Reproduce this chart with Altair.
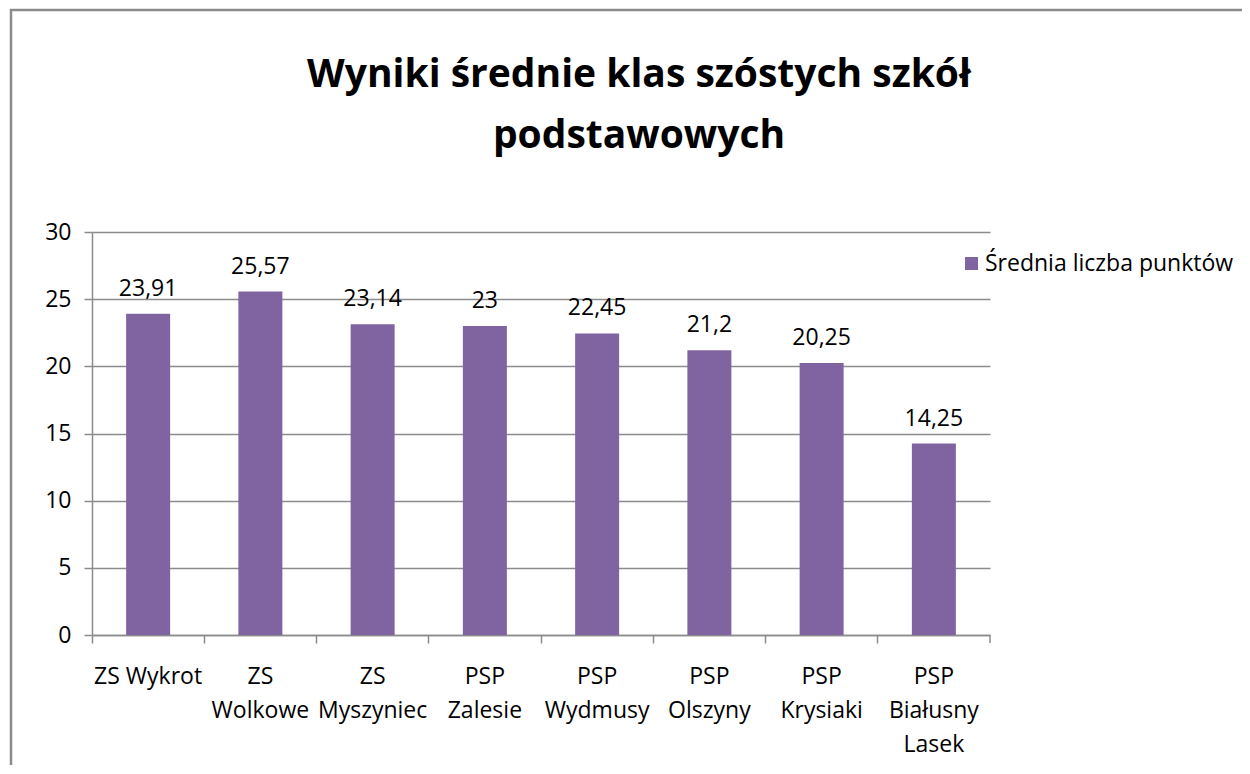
import json
import altair as alt
import pandas as pd

categories = ["ZS Wykrot", "ZS Wolkowe", "ZS Myszyniec", "PSP Zalesie",
              "PSP Wydmusy", "PSP Olszyny", "PSP Krysiaki", "PSP Białusny Lasek"]
label_lines = [["ZS Wykrot"], ["ZS", "Wolkowe"], ["ZS", "Myszyniec"], ["PSP", "Zalesie"],
               ["PSP", "Wydmusy"], ["PSP", "Olszyny"], ["PSP", "Krysiaki"],
               ["PSP", "Białusny", "Lasek"]]
values = [23.91, 25.57, 23.14, 23, 22.45, 21.2, 20.25, 14.25]
series_name = "Średnia liczba punktów"
y_ticks = [0, 5, 10, 15, 20, 25, 30]
title_lines = ["Wyniki średnie klas szóstych szkół", "podstawowych"]

FONT = "Open Sans"
GRAY = "#8c8c8c"
BAR = "#8064A2"
W, H = 898, 403

df = pd.DataFrame({"school": categories, "value": values, "series": series_name})
label_map = json.dumps(dict(zip(categories, label_lines)), ensure_ascii=False)

base = alt.Chart(df)

x_enc = alt.X("school:N", sort=categories, title=None,
              scale=alt.Scale(paddingInner=0, paddingOuter=0),
              axis=alt.Axis(labelAngle=0, bandPosition=0, tickSize=8, tickColor=GRAY,
                            tickWidth=1.5, domainColor=GRAY, domainWidth=1.5,
                            labelFont=FONT, labelFontSize=23, labelColor="black",
                            labelPadding=22, labelLineHeight=34, labelBaseline="top",
                            labelExpr=f"{label_map}[datum.label]", grid=False))
y_enc = alt.Y("value:Q", title=None,
              scale=alt.Scale(domain=[0, 30], nice=False),
              axis=alt.Axis(values=y_ticks, tickSize=8, tickColor=GRAY, tickWidth=1.5,
                            domainColor=GRAY, domainWidth=1.5, gridColor=GRAY, gridWidth=1.3,
                            labelFont=FONT, labelFontSize=23, labelColor="black",
                            labelPadding=13))

bars = base.mark_bar(width=44, color=BAR).encode(
    x=x_enc, y=y_enc,
    color=alt.Color("series:N", scale=alt.Scale(range=[BAR]),
                    legend=alt.Legend(title=None, orient="none", legendX=868, legendY=20,
                                      symbolType="square", symbolSize=169,
                                      symbolStrokeWidth=0, labelFont=FONT,
                                      labelFontSize=23, labelColor="black",
                                      labelOffset=2, labelLimit=0, padding=0)),
)

texts = base.mark_text(font=FONT, fontSize=23, color="black", baseline="alphabetic",
                       dy=-18).transform_calculate(
    lbl="replace(toString(datum.value), '.', ',')"
).encode(x=alt.X("school:N", sort=categories), y="value:Q", text="lbl:N")

end_tick = alt.Chart(alt.Data(values=[{}])).mark_rule(color=GRAY, strokeWidth=1.5).encode(
    x=alt.value(W), y=alt.value(H), y2=alt.value(H + 8))
border_left = alt.Chart(alt.Data(values=[{}])).mark_rule(color=GRAY, strokeWidth=2.5).encode(
    x=alt.value(-81), y=alt.value(-223), y2=alt.value(H + 200))
border_top = alt.Chart(alt.Data(values=[{}])).mark_rule(color=GRAY, strokeWidth=2.5).encode(
    x=alt.value(-82), x2=alt.value(1200), y=alt.value(-222))

chart = alt.layer(bars, texts, end_tick, border_left, border_top).properties(
    width=W, height=H,
    autosize=alt.AutoSizeParams(type="none"),
    padding={"left": 84, "top": 224, "right": 252, "bottom": 130},
    title=alt.TitleParams(text=title_lines, font=FONT, fontSize=39, fontWeight="bold",
                          color="black", lineHeight=61, anchor="middle", frame="group",
                          baseline="bottom", offset=0, dy=187, dx=98),
).configure_view(stroke=None).configure_axisY(ticks=True)

chart.save("out.html", embed_options={"renderer": "svg", "actions": False})
